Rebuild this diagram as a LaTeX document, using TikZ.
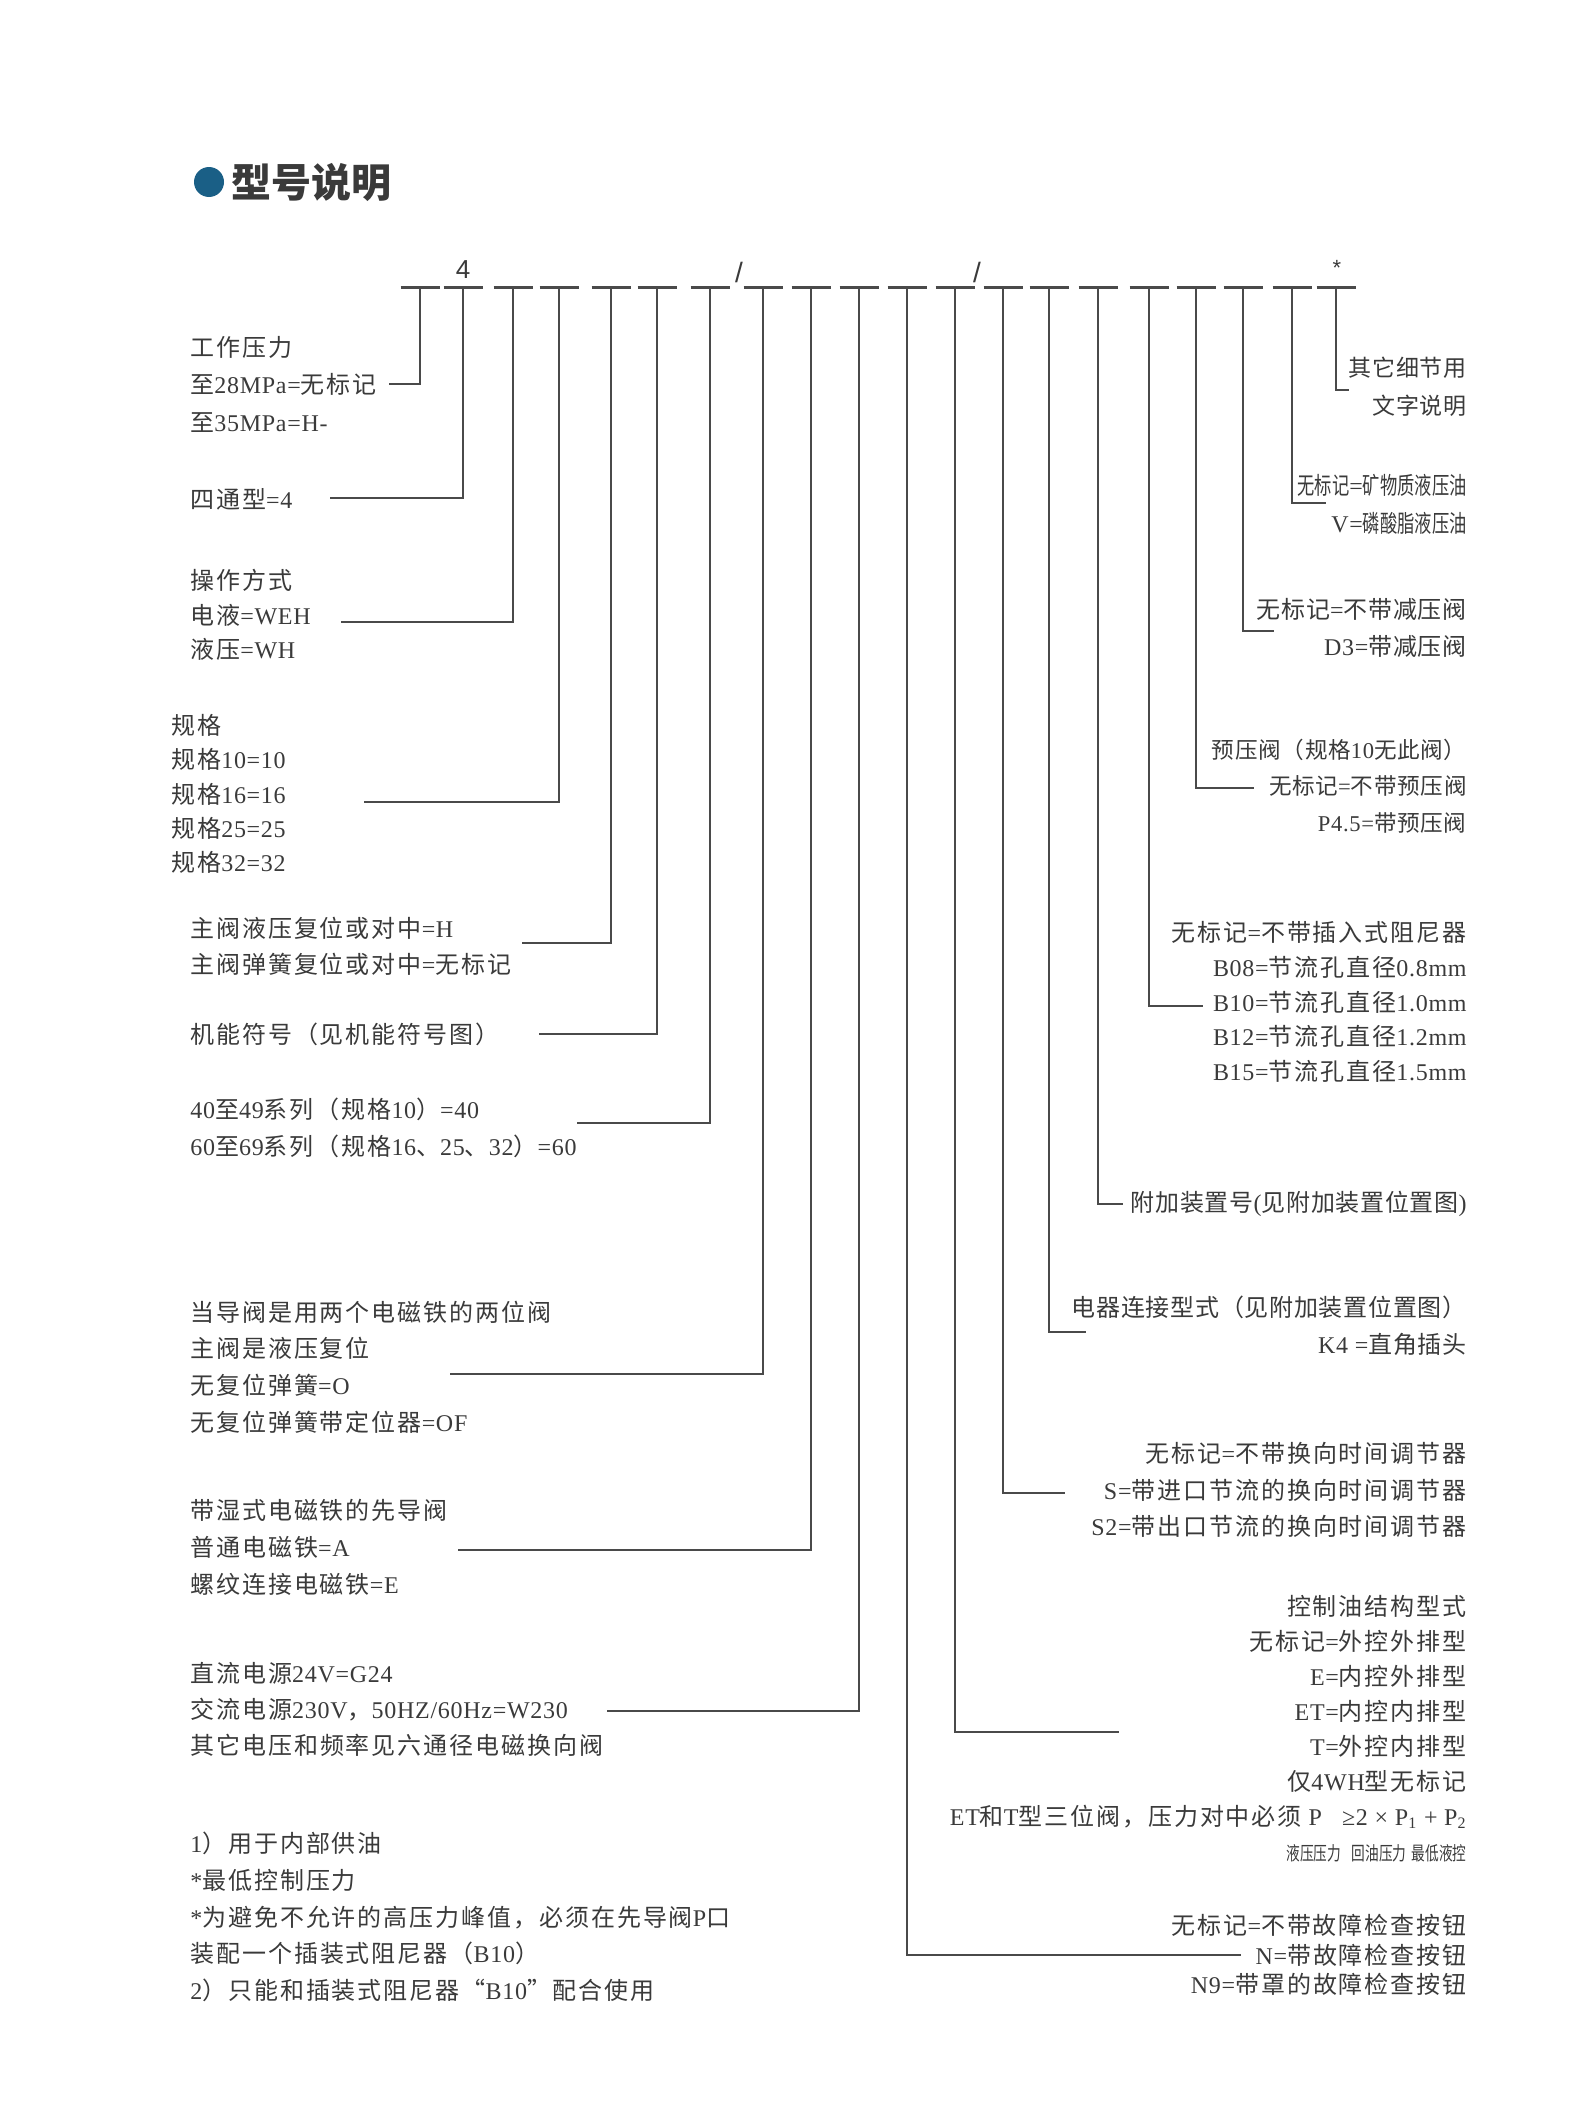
\documentclass[tikz,border=0pt]{standalone}
\usepackage{fontspec}
\setmainfont{Liberation Serif}[LetterSpace=3]
\newfontfamily\codefont{Liberation Sans}
\newfontfamily\cjkfont{Noto Sans CJK SC}[LetterSpace=8]
\newfontfamily\cjktightfont{Noto Sans CJK SC}[LetterSpace=3]
\newfontfamily\cjknarrowfont{Noto Sans CJK SC}[FakeStretch=0.72]
\newfontfamily\titlefont{Noto Sans CJK SC}
\usetikzlibrary{positioning}

\definecolor{txt}{HTML}{3A3A3A}
\definecolor{ln}{HTML}{4A4A4A}
\definecolor{dotblue}{HTML}{1A5F86}

% CJK runs switch to the CJK font
\newXeTeXintercharclass\cjkclass
\newcount\cjkcnt
\cjkcnt="4E00
\loop
  \XeTeXcharclass\cjkcnt=\cjkclass
  \advance\cjkcnt by 1
\ifnum\cjkcnt<"A000 \repeat
\XeTeXcharclass"3001=\cjkclass
\XeTeXcharclass"FF08=\cjkclass
\XeTeXcharclass"FF09=\cjkclass
\XeTeXcharclass"FF0C=\cjkclass
\XeTeXcharclass"201C=\cjkclass
\XeTeXcharclass"201D=\cjkclass
\let\cjkcur\cjkfont
\XeTeXinterchartoks 0 \cjkclass={\begingroup\cjkcur}
\XeTeXinterchartoks 4095 \cjkclass={\begingroup\cjkcur}
\XeTeXinterchartoks \cjkclass 0={\endgroup}
\XeTeXinterchartoks \cjkclass 4095={\endgroup}
\XeTeXinterchartokenstate=1

\begin{document}
\begin{tikzpicture}[x=0.5pt,y=-0.5pt,
lbl/.style={inner sep=0pt,text=txt,align=left,anchor=west,font=\fontsize{12}{18.5}\selectfont},
rlbl/.style={inner sep=0pt,text=txt,align=right,anchor=east,font=\fontsize{12}{18.5}\selectfont},
code/.style={inner sep=0pt,text=txt,font=\codefont\fontsize{13}{15}\selectfont},
lead/.style={draw=ln,line width=0.8pt},
slot/.style={draw=ln,line width=1.5pt}]
\useasboundingbox (0,0) rectangle (1590,2114);

% heading
\fill[dotblue] (209,182) circle (15) coordinate (dot);
\node[inner sep=0pt,anchor=west,text=txt,font={\let\cjkcur\titlefont\bfseries\fontsize{20}{24}\selectfont}] (title) at (231,182) {型号说明};

% model code slots
\foreach \x [count=\i] in {420,463,513,559,611,657,710,763,811,859,907,955,1003,1049,1098,1149,1196,1243,1292,1336}{
  \coordinate (d\i) at (\x,287);
  \draw[slot] ([xshift=-9.75pt]d\i) -- ([xshift=9.75pt]d\i);
}
\node[code] (four) at (463,270) {4};
\node[code,font=\codefont\fontsize{14}{16}\selectfont] (slashA) at (739,272) {/};
\node[code,font=\codefont\fontsize{14}{16}\selectfont] (slashB) at (977,272) {/};
\node[code,font=\codefont\fontsize{11}{13}\selectfont] (star) at (1337,268) {*};

% left column
\node[lbl,font=\fontsize{12}{18.75}\selectfont] (press) at (190,384) {工作压力\\至28MPa=无标记\\至35MPa=H-};
\node[lbl] (ways) at (190,499) {四通型=4};
\node[lbl,font=\fontsize{12}{17.2}\selectfont] (oper) at (190,615) {操作方式\\电液=WEH\\液压=WH};
\node[lbl,font=\fontsize{12}{17.2}\selectfont] (size) at (171,794) {规格\\规格10=10\\规格16=16\\规格25=25\\规格32=32};
\node[lbl,font=\fontsize{12}{18}\selectfont] (main) at (190,946) {主阀液压复位或对中=H\\主阀弹簧复位或对中=无标记};
\node[lbl] (func) at (190,1034) {机能符号（见机能符号图）};
\node[lbl] (series) at (190,1128) {40至49系列（规格10）=40\\60至69系列（规格16、25、32）=60};
\node[lbl,font=\fontsize{12}{18.35}\selectfont] (pilot) at (190,1367) {当导阀是用两个电磁铁的两位阀\\主阀是液压复位\\无复位弹簧=O\\无复位弹簧带定位器=OF};
\node[lbl] (sol) at (190,1547) {带湿式电磁铁的先导阀\\普通电磁铁=A\\螺纹连接电磁铁=E};
\node[lbl,font=\fontsize{12}{18}\selectfont] (power) at (190,1709) {直流电源24V=G24\\交流电源230V，50HZ/60Hz=W230\\其它电压和频率见六通径电磁换向阀};
\node[lbl,font=\fontsize{12}{18.35}\selectfont] (notes) at (190,1917) {1）用于内部供油\\*最低控制压力\\*为避免不允许的高压力峰值，必须在先导阀P口\\装配一个插装式阻尼器（B10）\\2）只能和插装式阻尼器“B10”配合使用};

% right column
\node[rlbl,font={\let\cjkcur\cjktightfont\fontsize{11.5}{19}\selectfont}] (other) at (1467,387) {其它细节用\\文字说明};
\node[rlbl,font={\let\cjkcur\cjknarrowfont\fontsize{12}{19}\selectfont}] (oil) at (1467,504) {无标记=矿物质液压油\\V=磷酸脂液压油};
\node[rlbl,font={\let\cjkcur\cjktightfont\fontsize{12}{18.5}\selectfont}] (reduce) at (1467,628) {无标记=不带减压阀\\D3=带减压阀};
\node[rlbl,font={\let\cjkcur\cjktightfont\fontsize{11.3}{18.25}\selectfont}] (prefill) at (1467,786) {预压阀（规格10无此阀）\\无标记=不带预压阀\\P4.5=带预压阀};
\node[rlbl,font=\fontsize{12}{17.4}\selectfont] (orifice) at (1467,1002) {无标记=不带插入式阻尼器\\B08=节流孔直径0.8mm\\B10=节流孔直径1.0mm\\B12=节流孔直径1.2mm\\B15=节流孔直径1.5mm};
\node[rlbl,font={\let\cjkcur\cjktightfont\fontsize{12}{18.5}\selectfont}] (addon) at (1467,1204) {附加装置号(见附加装置位置图)};
\node[rlbl,font={\let\cjkcur\cjktightfont\fontsize{12}{18.5}\selectfont}] (elec) at (1467,1326) {电器连接型式（见附加装置位置图）\\K4 =直角插头};
\node[rlbl,font=\fontsize{12}{18.25}\selectfont] (timer) at (1467,1490) {无标记=不带换向时间调节器\\S=带进口节流的换向时间调节器\\S2=带出口节流的换向时间调节器};
\node[rlbl,font=\fontsize{12}{17.5}\selectfont] (ctrl) at (1467,1712) {控制油结构型式\\无标记=外控外排型\\E=内控外排型\\ET=内控内排型\\T=外控内排型\\仅4WH型无标记\\ET和T型三位阀，压力对中必须\ P\ \ \ ≥2\ ×\ P\textsubscript{1}\ +\ P\textsubscript{2}};
\node[rlbl,font={\let\cjkcur\cjknarrowfont\fontsize{9.5}{11}\selectfont}] (ctrlnote) at (1467,1853) {液压压力\ \ 回油压力\ 最低液控};
\node[rlbl,font=\fontsize{12}{14.75}\selectfont] (fault) at (1467,1955) {无标记=不带故障检查按钮\\N=带故障检查按钮\\N9=带罩的故障检查按钮};

% leader ends
\coordinate (e1) at (389,384);
\coordinate (e2) at (330,498);
\coordinate (e3) at (341,622);
\coordinate (e4) at (364,802);
\coordinate (e5) at (522,943);
\coordinate (e6) at (539,1034);
\coordinate (e7) at (577,1123);
\coordinate (e8) at (450,1374);
\coordinate (e9) at (458,1550);
\coordinate (e10) at (607,1711);
\coordinate (e11) at (1241,1955);
\coordinate (e12) at (1119,1732);
\coordinate (e13) at (1065,1493);
\coordinate (e14) at (1086,1332);
\coordinate (e15) at (1123,1204);
\coordinate (e16) at (1203,1006);
\coordinate (e17) at (1254,788);
\coordinate (e18) at (1274,631);
\coordinate (e19) at (1326,503);
\coordinate (e20) at (1349,390);

% leaders
\foreach \i in {1,...,20}
  \draw[lead] (d\i) |- (e\i);
\end{tikzpicture}
\end{document}
